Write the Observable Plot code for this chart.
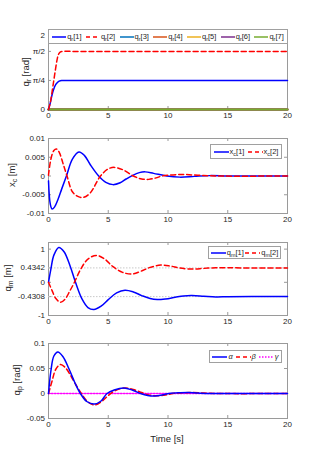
<!DOCTYPE html>
<html>
<head>
<meta charset="utf-8">
<script src="https://cdn.jsdelivr.net/npm/d3@7"></script>
<script src="https://cdn.jsdelivr.net/npm/@observablehq/plot@0.6"></script>
<style>
  html, body { margin: 0; padding: 0; background: #fff; }
  #wrap { position: relative; width: 317px; height: 470px; overflow: hidden; font-family: "Liberation Sans", Arial, sans-serif; color: #262626; }
  #wrap > svg { position: absolute; left: 0; }
  .ylab { position: absolute; transform: translate(-50%, -50%) rotate(-90deg); white-space: nowrap; font-size: 9.5px; }
  .ylab sub, .leg sub { font-size: 0.72em; vertical-align: -0.3em; line-height: 0; }
  .leg { position: absolute; box-sizing: border-box; border: 1px solid #a0a0a0; background: #fff; display: flex; align-items: center; justify-content: space-around; font-size: 7.5px; z-index: 5; padding: 0 1px; }
  .leg .it { display: flex; align-items: center; white-space: nowrap; }
  #wrap .leg svg { position: static; margin-right: 1px; display: block; }
  .xlab { position: absolute; transform: translate(-50%, -50%); font-size: 9.5px; white-space: nowrap; }
</style>
</head>
<body>
<div id="wrap"></div>
<script>
// ---------- data ----------
const xTicks = [0, 5, 10, 15, 20];

// panel 1: q_r
const tQr1 = [0, 0.15, 0.3, 0.45, 0.6, 0.75, 0.9, 1.1, 1.4, 2, 20];
const qr1  = [0, 0.18, 0.4, 0.56, 0.67, 0.73, 0.765, 0.782, 0.785, 0.7854, 0.7854];
const tQr2 = [0, 0.15, 0.3, 0.45, 0.6, 0.72, 0.85, 1.0, 1.2, 2, 20];
const qr2  = [0, 0.18, 0.48, 0.8, 1.12, 1.35, 1.5, 1.56, 1.5708, 1.5708, 1.5708];
const tZero = [0, 20];
const zeroVals = [0, 0];
const qrTicks = [0, Math.PI / 4, Math.PI / 2, 2];
const qrTickLabels = ["0", "π/4", "π/2", "2"];
const qrNames = ["1", "2", "3", "4", "5", "6", "7"];
const qrColors = ["#0000ff", "#ff0000", "#0072bd", "#d95319", "#edb120", "#7e2f8e", "#77ac30"];

// panel 2: x_c
const tXc1 = [0, 0.15, 0.3, 0.5, 0.8, 1.1, 1.5, 2.0, 2.55, 3.0, 3.5, 4.2, 4.8, 5.4, 6.0, 6.5, 7.0, 7.6, 8.1, 8.8, 9.9, 11, 12.2, 13.5, 15, 17, 20];
const xc1  = [-0.0013, -0.0075, -0.0088, -0.0083, -0.0062, -0.0035, 0, 0.0045, 0.0064, 0.0055, 0.003, 0, -0.0017, -0.0023, -0.0018, -0.0008, 0.0001, 0.0009, 0.0011, 0.0007, 0, -0.0003, -0.0001, 0.0001, 0, 0, 0];
const tXc2 = [0, 0.2, 0.45, 0.67, 0.9, 1.2, 1.55, 2.0, 2.5, 2.95, 3.5, 4.35, 5.0, 5.5, 6.2, 7.1, 7.8, 8.4, 9.0, 9.5, 11, 12.5, 14, 20];
const xc2  = [0.0002, 0.0045, 0.0068, 0.0072, 0.0063, 0.0035, 0, -0.0042, -0.0055, -0.0057, -0.0045, 0, 0.0019, 0.0023, 0.0017, 0, -0.0008, -0.0009, -0.0005, 0, 0.0004, 0.0002, 0, 0];
const xcTicks = [-0.01, -0.005, 0, 0.005, 0.01];

// panel 3: q_m
const tQm1 = [0, 0.2, 0.45, 0.86, 1.3, 1.8, 2.26, 2.8, 3.3, 3.8, 4.4, 5.0, 5.7, 6.4, 7.1, 7.8, 8.5, 9.1, 9.8, 10.6, 11.3, 12, 13, 14, 15, 17, 20];
const qm1  = [0, 0.4, 0.82, 1.05, 0.92, 0.5, 0, -0.5, -0.76, -0.82, -0.72, -0.52, -0.32, -0.24, -0.29, -0.4, -0.49, -0.52, -0.5, -0.45, -0.41, -0.4, -0.42, -0.44, -0.435, -0.431, -0.4308];
const tQm2 = [0, 0.3, 0.6, 1.0, 1.4, 1.8, 2.17, 2.7, 3.3, 4.0, 4.7, 5.4, 6.2, 7.0, 7.7, 8.5, 9.4, 10.2, 11, 12, 13, 14, 15, 17, 20];
const qm2  = [0, -0.25, -0.48, -0.6, -0.5, -0.25, 0, 0.4, 0.7, 0.81, 0.7, 0.47, 0.3, 0.25, 0.33, 0.45, 0.52, 0.49, 0.43, 0.4, 0.42, 0.44, 0.437, 0.434, 0.4342];
const qmRefs = [0.4342, -0.4308];
const qmTicks = [-1, -0.4308, 0, 0.4342, 1];

// panel 4: q_p
const tQpA = [0, 0.2, 0.45, 0.78, 1.2, 1.7, 2.2, 2.67, 3.2, 3.85, 4.4, 4.9, 5.5, 6.3, 7.0, 7.7, 8.3, 8.9, 9.5, 10.1, 11, 11.7, 12.5, 13.5, 15, 20];
const qpA  = [0, 0.045, 0.075, 0.083, 0.074, 0.05, 0.022, 0, -0.016, -0.021, -0.015, 0, 0.007, 0.011, 0.007, 0, -0.004, -0.005, -0.003, 0, 0.0015, 0.002, 0.001, 0, 0, 0];
const tQpB = [0, 0.3, 0.6, 1.0, 1.4, 1.9, 2.3, 2.75, 3.3, 3.85, 4.5, 5.0, 5.6, 6.4, 7.1, 7.8, 8.4, 9.1, 9.8, 10.4, 11.3, 12, 13, 14, 20];
const qpB  = [0, 0.025, 0.048, 0.058, 0.052, 0.034, 0.017, 0, -0.017, -0.023, -0.015, -0.004, 0.006, 0.011, 0.008, 0.002, -0.003, -0.0045, -0.003, 0, 0.0015, 0.002, 0.001, 0, 0];
const tQpG = [0, 20];
const qpG  = [0, 0];
const qpTicks = [-0.05, 0, 0.05, 0.1];

// ---------- drawing ----------
const wrap = document.getElementById("wrap");
const axisColor = "#9a9a9a";
const ML = 48, MR = 30, W = 317;
const innerW = W - ML - MR;
const fmt = d => String(d);

function series(t, v, opts) {
  return Plot.line({length: t.length}, Object.assign({x: t, y: v, curve: "catmull-rom", strokeWidth: 1.5}, opts));
}

function panel(cfg) {
  const mt = 6, mb = 22;
  const innerH = cfg.bottom - cfg.top;
  const p = Plot.plot({
    width: W,
    height: innerH + mt + mb,
    marginLeft: ML, marginRight: MR, marginTop: mt, marginBottom: mb,
    style: {fontFamily: '"Liberation Sans", Arial, sans-serif', fontSize: "8px", color: "#262626", background: "transparent"},
    x: {domain: [0, 20], ticks: xTicks, tickSize: 0, tickPadding: 3, tickFormat: fmt, label: null},
    y: {domain: cfg.yDomain, ticks: cfg.yTicks, tickSize: 0, tickPadding: 3.5, tickFormat: cfg.yFmt || fmt, label: null},
    marks: [
      Plot.frame({stroke: axisColor}),
      Plot.tickX(xTicks, {x: d => d, insetTop: innerH - 3, stroke: axisColor}),
      Plot.tickX(xTicks, {x: d => d, insetBottom: innerH - 3, stroke: axisColor}),
      Plot.tickY(cfg.yTicks, {y: d => d, insetRight: innerW - 3, stroke: axisColor}),
      Plot.tickY(cfg.yTicks, {y: d => d, insetLeft: innerW - 3, stroke: axisColor}),
      ...(cfg.pre || []),
      ...cfg.marks
    ]
  });
  p.style.top = (cfg.top - mt) + "px";
  wrap.appendChild(p);
}

// Panel 1
panel({
  top: 35, bottom: 109, yDomain: [0, 2], yTicks: qrTicks,
  yFmt: d => qrTickLabels[qrTicks.indexOf(d)],
  marks: [
    series(tZero, zeroVals, {stroke: qrColors[2], strokeWidth: 2}),
    series(tZero, zeroVals, {stroke: qrColors[3], strokeWidth: 2}),
    series(tZero, zeroVals, {stroke: qrColors[4], strokeWidth: 2}),
    series(tZero, zeroVals, {stroke: qrColors[5], strokeWidth: 2}),
    series(tZero, zeroVals, {stroke: qrColors[6], strokeWidth: 2}),
    series(tQr1, qr1, {stroke: qrColors[0]}),
    series(tQr2, qr2, {stroke: qrColors[1], strokeDasharray: "5,3"})
  ]
});

// Panel 2
panel({
  top: 138, bottom: 213, yDomain: [-0.01, 0.01], yTicks: xcTicks,
  marks: [
    series(tXc1, xc1, {stroke: "#0000ff"}),
    series(tXc2, xc2, {stroke: "#ff0000", strokeDasharray: "5,3"})
  ]
});

// Panel 3
panel({
  top: 242, bottom: 315, yDomain: [-1, 1.2], yTicks: qmTicks,
  pre: [Plot.ruleY(qmRefs, {stroke: "#c8c8c8", strokeDasharray: "1.5,1.5"})],
  marks: [
    series(tQm1, qm1, {stroke: "#0000ff"}),
    series(tQm2, qm2, {stroke: "#ff0000", strokeDasharray: "5,3"})
  ]
});

// Panel 4
panel({
  top: 343, bottom: 418, yDomain: [-0.05, 0.1], yTicks: qpTicks,
  marks: [
    series(tQpG, qpG, {stroke: "#ff00ff", strokeDasharray: "1.5,1.5"}),
    series(tQpB, qpB, {stroke: "#ff0000", strokeDasharray: "5,3"}),
    series(tQpA, qpA, {stroke: "#0000ff"})
  ]
});

// ---------- labels ----------
function ylab(html, x, y) {
  const d = document.createElement("div");
  d.className = "ylab";
  d.innerHTML = html;
  d.style.left = x + "px";
  d.style.top = y + "px";
  wrap.appendChild(d);
}
ylab("q<sub>r</sub> [rad]", 25, 72);
ylab("x<sub>c</sub> [m]", 11, 175);
ylab("q<sub>m</sub> [m]", 7, 278);
ylab("q<sub>p</sub> [rad]", 16, 380);

const xl = document.createElement("div");
xl.className = "xlab";
xl.textContent = "Time [s]";
xl.style.left = "167px";
xl.style.top = "438px";
wrap.appendChild(xl);

// ---------- legends ----------
function sample(color, dash, w) {
  return `<svg width="${w}" height="6"><line x1="0" y1="3" x2="${w}" y2="3" stroke="${color}" stroke-width="1.5" ${dash ? `stroke-dasharray="${dash}"` : ""}/></svg>`;
}
function legend(items, left, top, width, height) {
  const d = document.createElement("div");
  d.className = "leg";
  d.style.left = left + "px";
  d.style.top = top + "px";
  d.style.width = width + "px";
  d.style.height = height + "px";
  d.innerHTML = items.map(it => `<span class="it">${sample(it.color, it.dash, it.w || 15)}<span>${it.label}</span></span>`).join("");
  wrap.appendChild(d);
}
legend(qrNames.map((n, i) => ({
  color: qrColors[i], dash: i === 1 ? "4,3" : null, w: 14,
  label: `q<sub>r</sub>[${n}]`
})), 48, 29, 240, 15);
legend([
  {color: "#0000ff", label: "x<sub>c</sub>[1]"},
  {color: "#ff0000", dash: "4,3", label: "x<sub>c</sub>[2]"}
], 210, 144, 72, 15);
legend([
  {color: "#0000ff", label: "q<sub>m</sub>[1]"},
  {color: "#ff0000", dash: "4,3", label: "q<sub>m</sub>[2]"}
], 208, 246, 73, 13);
legend([
  {color: "#0000ff", label: "<i>α</i>"},
  {color: "#ff0000", dash: "4,3", label: "<i>β</i>"},
  {color: "#ff00ff", dash: "1.5,1.5", label: "<i>γ</i>"}
], 209, 350, 73, 13);
</script>
</body>
</html>
